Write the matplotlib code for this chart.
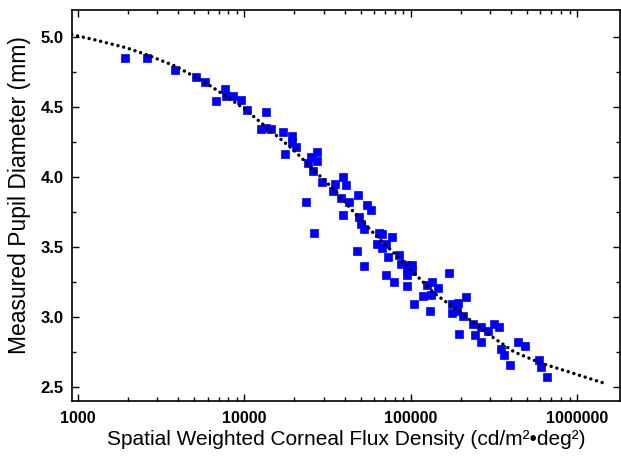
import matplotlib
matplotlib.use("Agg")
import matplotlib.pyplot as plt
from matplotlib.ticker import LogLocator, MultipleLocator, FixedLocator, NullFormatter

plt.rcParams["font.family"] = ["Liberation Sans", "DejaVu Sans"]

# measured points: corneal flux density vs pupil diameter
flux = [
    1920, 2590, 3840, 5140, 5820, 6780, 7690, 7790, 8530, 9590,
    10400, 13500, 12600, 13500, 14400, 17100, 19200, 19200, 20300, 17500,
    27200, 25300, 27200, 24000, 26000, 29100, 38900, 35100, 40700, 33900,
    37900, 42500, 23500, 39200, 26100, 48200, 54600, 58000, 48600, 50300,
    52300, 64000, 67600, 77600, 62700, 71200, 67600, 47300, 72700, 85100,
    52100, 87100, 95900, 102000, 95500, 102000, 70700, 95200, 79000, 94600,
    170000, 135000, 125000, 146000, 132000, 118000, 105000, 131000, 214000, 192000,
    177000, 177000, 189000, 205000, 236000, 264000, 290000, 316000, 341000, 195000,
    242000, 266000, 350000, 365000, 395000, 443000, 484000, 586000, 607000, 656000,
]
pupil = [
    4.85, 4.85, 4.76, 4.71, 4.68, 4.54, 4.63, 4.58, 4.58, 4.55,
    4.48, 4.46, 4.34, 4.35, 4.34, 4.32, 4.29, 4.25, 4.21, 4.16,
    4.18, 4.14, 4.11, 4.10, 4.04, 3.96, 4.00, 3.95, 3.94, 3.90,
    3.85, 3.82, 3.82, 3.73, 3.60, 3.87, 3.80, 3.76, 3.71, 3.66,
    3.63, 3.60, 3.59, 3.57, 3.52, 3.52, 3.49, 3.47, 3.43, 3.44,
    3.36, 3.38, 3.37, 3.37, 3.34, 3.33, 3.30, 3.30, 3.25, 3.22,
    3.31, 3.25, 3.23, 3.21, 3.16, 3.15, 3.09, 3.04, 3.14, 3.10,
    3.09, 3.03, 3.04, 3.01, 2.95, 2.93, 2.90, 2.95, 2.93, 2.88,
    2.87, 2.82, 2.77, 2.73, 2.66, 2.82, 2.79, 2.69, 2.64, 2.57,
]

# fitted curve
fit_flux = [916, 1236, 1960, 2600, 3840, 5690, 7870, 10140, 13060, 19800,
            26000, 34500, 47700, 63000, 87000, 138000, 200000, 290000,
            419000, 607000, 880000, 1430000]
fit_pupil = [5.015, 4.98, 4.92, 4.87, 4.79, 4.68, 4.57, 4.48, 4.37, 4.19,
             4.05, 3.91, 3.72, 3.57, 3.41, 3.17, 3.03, 2.88,
             2.75, 2.67, 2.61, 2.53]

fig = plt.figure(figsize=(6.21, 4.57), dpi=100)
ax = fig.add_axes([0.1155, 0.1225, 0.8835, 0.8555])

ax.plot(fit_flux, fit_pupil, color="black", lw=2.5,
        linestyle=(0, (0.01, 1.7)), dash_capstyle="round", zorder=3)
ax.plot(flux, pupil, "s", color="#0000ff", ms=5.2, mec="#0000ff", mew=0.5, zorder=2)

ax.set_xscale("log")
ax.set_xlim(916, 1.82e6)
ax.set_ylim(2.4, 5.19)

ax.xaxis.set_major_locator(FixedLocator([1e3, 1e4, 1e5, 1e6]))
ax.xaxis.set_minor_locator(LogLocator(base=10, subs=range(2, 10)))
ax.xaxis.set_minor_formatter(NullFormatter())
ax.set_xticklabels(["1000", "10000", "100000", "1000000"])
ax.yaxis.set_major_locator(MultipleLocator(0.5))
ax.yaxis.set_minor_locator(MultipleLocator(0.25))
ax.yaxis.set_major_formatter(matplotlib.ticker.FormatStrFormatter("%.1f"))

ax.tick_params(which="both", direction="in", top=True, right=True, width=1.0)
ax.tick_params(axis="x", which="major", length=5, labelsize=11.5, pad=7)
ax.tick_params(axis="y", which="major", length=5, labelsize=12, pad=6)
ax.tick_params(which="minor", length=3)
for lab in ax.get_xticklabels() + ax.get_yticklabels():
    lab.set_fontweight("bold")
for sp in ax.spines.values():
    sp.set_linewidth(1.2)

ax.set_xlabel("Spatial Weighted Corneal Flux Density (cd/m²•deg²)", fontsize=15, labelpad=3)
ax.set_ylabel("Measured Pupil Diameter (mm)", fontsize=16.5)
ax.yaxis.set_label_coords(-0.074, 0.527)

fig.savefig("out.png", dpi=100)
